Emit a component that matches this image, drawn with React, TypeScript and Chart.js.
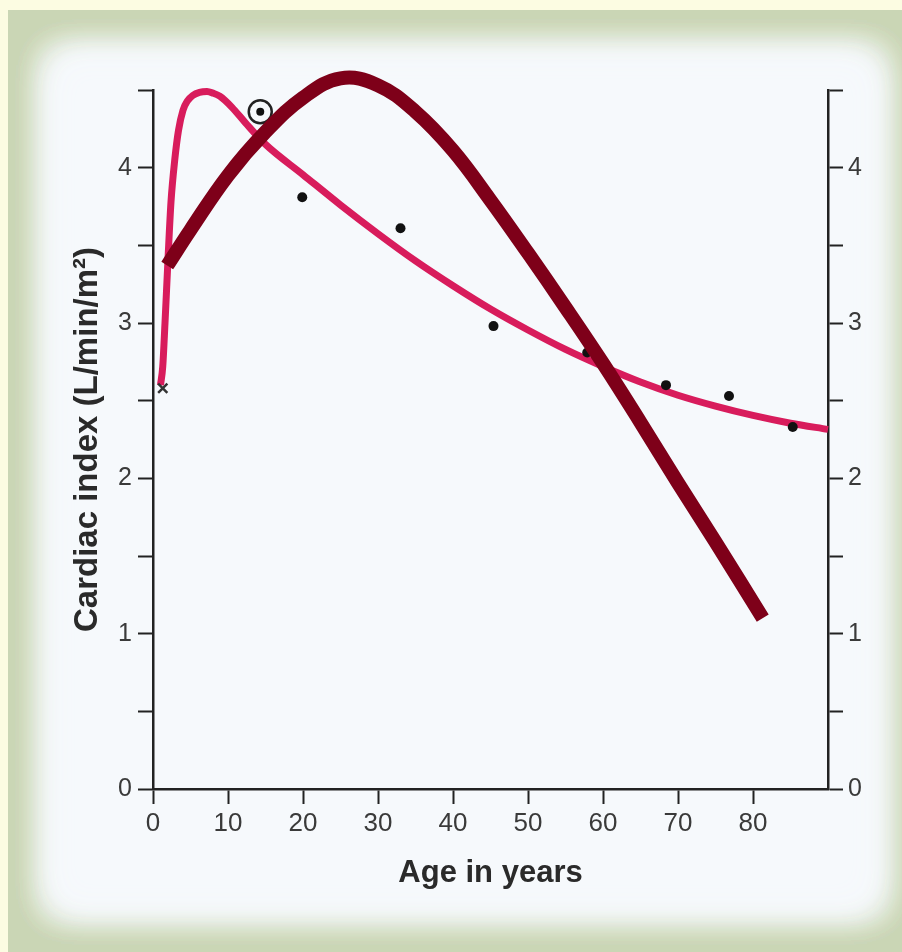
import React, { useEffect, useRef } from "react";
import { Chart, registerables } from "chart.js";

Chart.register(...registerables);

// Pink fitted curve (age, cardiac index)
const pinkAges = [1, 1.3, 1.6, 2.0, 2.4, 2.9, 3.4, 4.0, 4.6, 5.3, 6.2, 7.2, 8.0, 8.9, 10.5, 12.3, 15, 20, 25, 30, 35, 40, 45, 50, 55, 60, 65, 70, 75, 80, 85, 90];
const pinkValues = [2.6, 2.72, 3.0, 3.41, 3.78, 4.05, 4.24, 4.37, 4.43, 4.465, 4.485, 4.49, 4.48, 4.46, 4.39, 4.29, 4.15, 3.955, 3.76, 3.575, 3.4, 3.24, 3.09, 2.955, 2.83, 2.72, 2.62, 2.535, 2.465, 2.405, 2.355, 2.315];

// Dark red thick line
const redAges = [1.9, 5, 10, 15, 20, 25, 30, 35, 40, 45, 50, 55, 60, 65, 70, 75, 81.3];
const redValues = [3.37, 3.6, 3.95, 4.23, 4.45, 4.575, 4.53, 4.36, 4.11, 3.79, 3.45, 3.1, 2.74, 2.36, 1.97, 1.59, 1.1];

// Measured data points
const dotAges = [19.9, 33, 45.4, 57.9, 68.4, 76.8, 85.3];
const dotValues = [3.81, 3.61, 2.98, 2.81, 2.6, 2.53, 2.33];

// Circled point and the "x" point
const circledAge = [14.3];
const circledValue = [4.36];
const crossAge = [1.3];
const crossValue = [2.58];

const xTickMax = 80;
const yTitle = "Cardiac index (L/min/m²)";
const xTitle = "Age in years";

const FONT = "'Liberation Sans', Arial, Helvetica, sans-serif";
const AXIS = "#222222";
const TICKTXT = "#3a3a3a";

const toXY = (xs: number[], ys: number[]) => xs.map((x, i) => ({ x, y: ys[i] }));

const bgPlugin = {
  id: "bgPlugin",
  beforeDraw(chart: any) {
    const ctx = chart.ctx;
    const W = chart.width;
    const H = chart.height;
    ctx.save();
    ctx.fillStyle = "#fcfce2";
    ctx.fillRect(0, 0, W, H);
    ctx.fillStyle = "#cad6b5";
    ctx.fillRect(8, 10, W - 8, H - 10);
    // soft inner panel drawn only through its blurred shadow
    const off = 3000;
    ctx.fillStyle = "#f6f9fc";
    ctx.shadowColor = "#f6f9fc";
    ctx.shadowOffsetX = off;
    ctx.shadowBlur = 34;
    for (let i = 0; i < 4; i++) ctx.fillRect(52 - off, 56, 824, 852);
    ctx.shadowBlur = 0;
    ctx.shadowOffsetX = 0;
    ctx.fillRect(80, 84, 768, 796);
    ctx.restore();
  },
};

export default function App() {
  const ref = useRef<HTMLCanvasElement | null>(null);
  useEffect(() => {
    if (!ref.current) return;
    const yAxisCommon = {
      type: "linear",
      min: 0,
      max: 4.5,
      ticks: {
        stepSize: 0.5,
        autoSkip: false,
        color: TICKTXT,
        font: { family: FONT, size: 25 },
        padding: 6,
        callback: (v: any) => (Number.isInteger(v) ? String(v) : ""),
      },
      grid: {
        display: true,
        drawOnChartArea: false,
        drawTicks: true,
        tickLength: 15,
        tickWidth: 2,
        tickColor: AXIS,
      },
      border: { display: true, color: AXIS, width: 2.5 },
    };
    const chart = new Chart(ref.current, {
      type: "line",
      data: {
        datasets: [
          {
            label: "red",
            data: toXY(redAges, redValues),
            borderColor: "#7e0019",
            borderWidth: 14,
            borderCapStyle: "butt",
            pointRadius: 0,
            tension: 0.4,
            clip: false,
            yAxisID: "y",
          },
          {
            label: "dots",
            data: toXY(dotAges, dotValues),
            showLine: false,
            pointRadius: 5,
            pointBackgroundColor: "#111111",
            pointBorderColor: "#111111",
            pointBorderWidth: 0,
            clip: false,
            yAxisID: "y",
          },
          {
            label: "circledDot",
            data: toXY(circledAge, circledValue),
            showLine: false,
            pointRadius: 4,
            pointBackgroundColor: "#111111",
            pointBorderWidth: 0,
            clip: false,
            yAxisID: "y",
          },
          {
            label: "circle",
            data: toXY(circledAge, circledValue),
            showLine: false,
            pointRadius: 11.5,
            pointBackgroundColor: "rgba(0,0,0,0)",
            pointBorderColor: "#222222",
            pointBorderWidth: 2.5,
            clip: false,
            yAxisID: "y",
          },
          {
            label: "cross",
            data: toXY(crossAge, crossValue),
            showLine: false,
            pointStyle: "crossRot",
            pointRadius: 6.5,
            pointBorderColor: "#333333",
            pointBorderWidth: 2.5,
            clip: false,
            yAxisID: "y",
          },
          {
            label: "pink",
            data: toXY(pinkAges, pinkValues),
            borderColor: "#d81c5c",
            borderWidth: 7,
            pointRadius: 0,
            cubicInterpolationMode: "monotone",
            clip: false,
            yAxisID: "y",
          },
        ],
      },
      options: {
        animation: false,
        responsive: false,
        events: [],
        layout: { padding: { top: 90, left: 0, right: 0, bottom: 0 } },
        plugins: { legend: { display: false }, tooltip: { enabled: false } },
        scales: {
          x: {
            type: "linear",
            min: 0,
            max: 90,
            ticks: {
              stepSize: 10,
              autoSkip: false,
              maxRotation: 0,
              color: TICKTXT,
              font: { family: FONT, size: 26 },
              padding: 4,
              callback: (v: any) => (v <= xTickMax ? String(v) : ""),
            },
            grid: {
              display: true,
              drawOnChartArea: false,
              drawTicks: true,
              tickLength: 15,
              tickWidth: 2,
              tickColor: (c: any) => (c.tick && c.tick.value > xTickMax ? "rgba(0,0,0,0)" : AXIS),
            },
            border: { display: true, color: AXIS, width: 2.5 },
            title: {
              display: true,
              text: xTitle,
              color: "#2a2a2a",
              font: { family: FONT, size: 31, weight: "bold" },
              padding: { top: 0, bottom: 60 },
            },
            afterFit: (s: any) => {
              s.height = 163;
            },
          },
          y: {
            ...yAxisCommon,
            position: "left",
            title: {
              display: true,
              text: yTitle,
              color: "#2a2a2a",
              font: { family: FONT, size: 33, weight: "bold" },
              padding: { top: 68, bottom: 0 },
            },
            afterFit: (s: any) => {
              s.width = 153;
            },
          },
          y2: {
            ...yAxisCommon,
            position: "right",
            ticks: { ...yAxisCommon.ticks, padding: 5 },
            afterFit: (s: any) => {
              s.width = 74;
            },
          },
        },
      } as any,
      plugins: [bgPlugin],
    } as any);
    return () => chart.destroy();
  }, []);
  return (
    <div style={{ position: "absolute", left: 0, top: 0, width: 902, height: 952 }}>
      <canvas ref={ref} width={902} height={952} style={{ display: "block", width: 902, height: 952 }} />
    </div>
  );
}
